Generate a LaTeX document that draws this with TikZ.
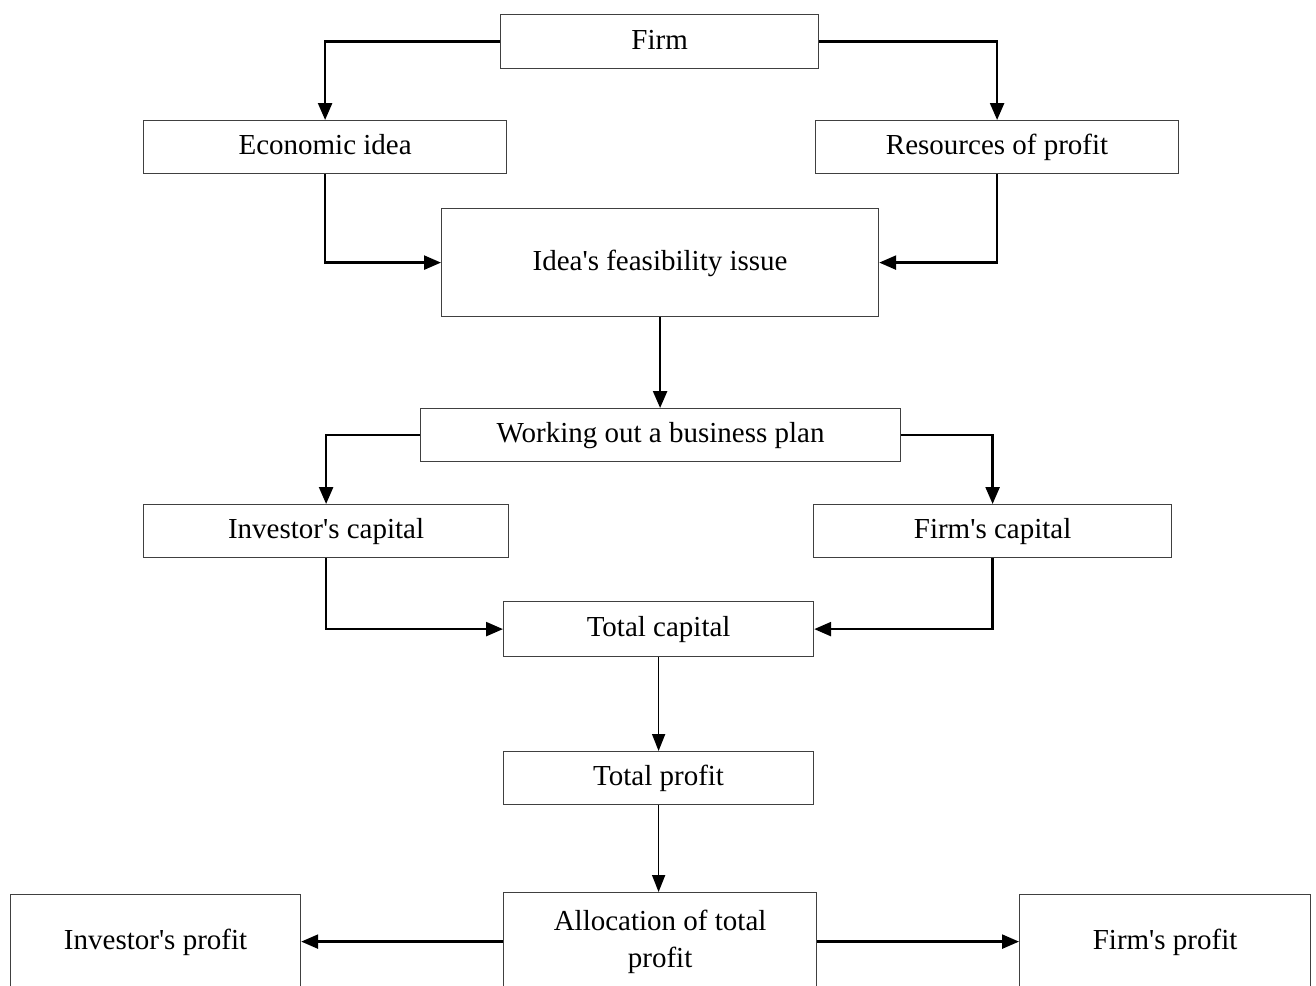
\documentclass[tikz,border=0pt]{standalone}
\usepackage{fontspec}
\setmainfont{Liberation Serif}
\usetikzlibrary{arrows.meta}
\newcommand\apo{\textquotesingle}
\begin{document}
\begin{tikzpicture}[x=1pt,y=-1pt,
  box/.style={draw=black!75, line width=1.2pt, inner sep=0pt, anchor=north west,
              font=\fontsize{29}{37}\selectfont, align=center},
  conn/.style={line width=2.5pt, -{Triangle[width=14pt,length=17pt]}},
  connthin/.style={line width=1.7pt, -{Triangle[width=13pt,length=17pt]}}
]
\useasboundingbox (0,0) rectangle (1316,985);
\clip (0,0) rectangle (1316,985);
\node[box, minimum width=318pt, minimum height=54pt] (firm)  at (500,14)  {\strut Firm};
\node[box, minimum width=363pt, minimum height=53pt] (econ)  at (143,120) {\strut Economic idea};
\node[box, minimum width=363pt, minimum height=53pt] (res)   at (815,120) {\strut Resources of profit};
\node[box, minimum width=437pt, minimum height=108pt] (feas) at (441,208) {\strut Idea\apo s feasibility issue};
\node[box, minimum width=480pt, minimum height=53pt] (work)  at (420,408) {\strut Working out a business plan};
\node[box, minimum width=365pt, minimum height=53pt] (invc)  at (143,504) {\strut Investor\apo s capital};
\node[box, minimum width=358pt, minimum height=53pt] (firmc) at (813,504) {\strut Firm\apo s capital};
\node[box, minimum width=310pt, minimum height=55pt] (totc)  at (503,601) {\strut Total capital};
\node[box, minimum width=310pt, minimum height=53pt] (totp)  at (503,751) {\strut Total profit};
\node[box, minimum width=313pt, minimum height=98pt] (alloc) at (503,892) {Allocation of total\\profit};
\node[box, minimum width=290pt, minimum height=94pt] (invp)  at (10,894)  {\strut Investor\apo s profit};
\node[box, minimum width=291pt, minimum height=94pt] (firmp) at (1019,894) {\strut Firm\apo s profit};

\draw[conn] (firm.west) -| (econ.north);
\draw[conn] (firm.east) -| (res.north);
\draw[conn] (econ.south) |- (feas.west);
\draw[conn] (res.south) |- (feas.east);
\draw[conn] (feas.south) -- (feas.south |- work.north);
\draw[conn] (work.west) -| (invc.north);
\draw[conn] (work.east) -| (firmc.north);
\draw[conn] (invc.south) |- (totc.west);
\draw[conn] (firmc.south) |- (totc.east);
\draw[connthin] (totc.south) -- (totp.north);
\draw[connthin] (totp.south) -- (totp.south |- alloc.north);
\draw[conn] (alloc.west) -- (invp.east);
\draw[conn] (alloc.east) -- (firmp.west);
\end{tikzpicture}
\end{document}
